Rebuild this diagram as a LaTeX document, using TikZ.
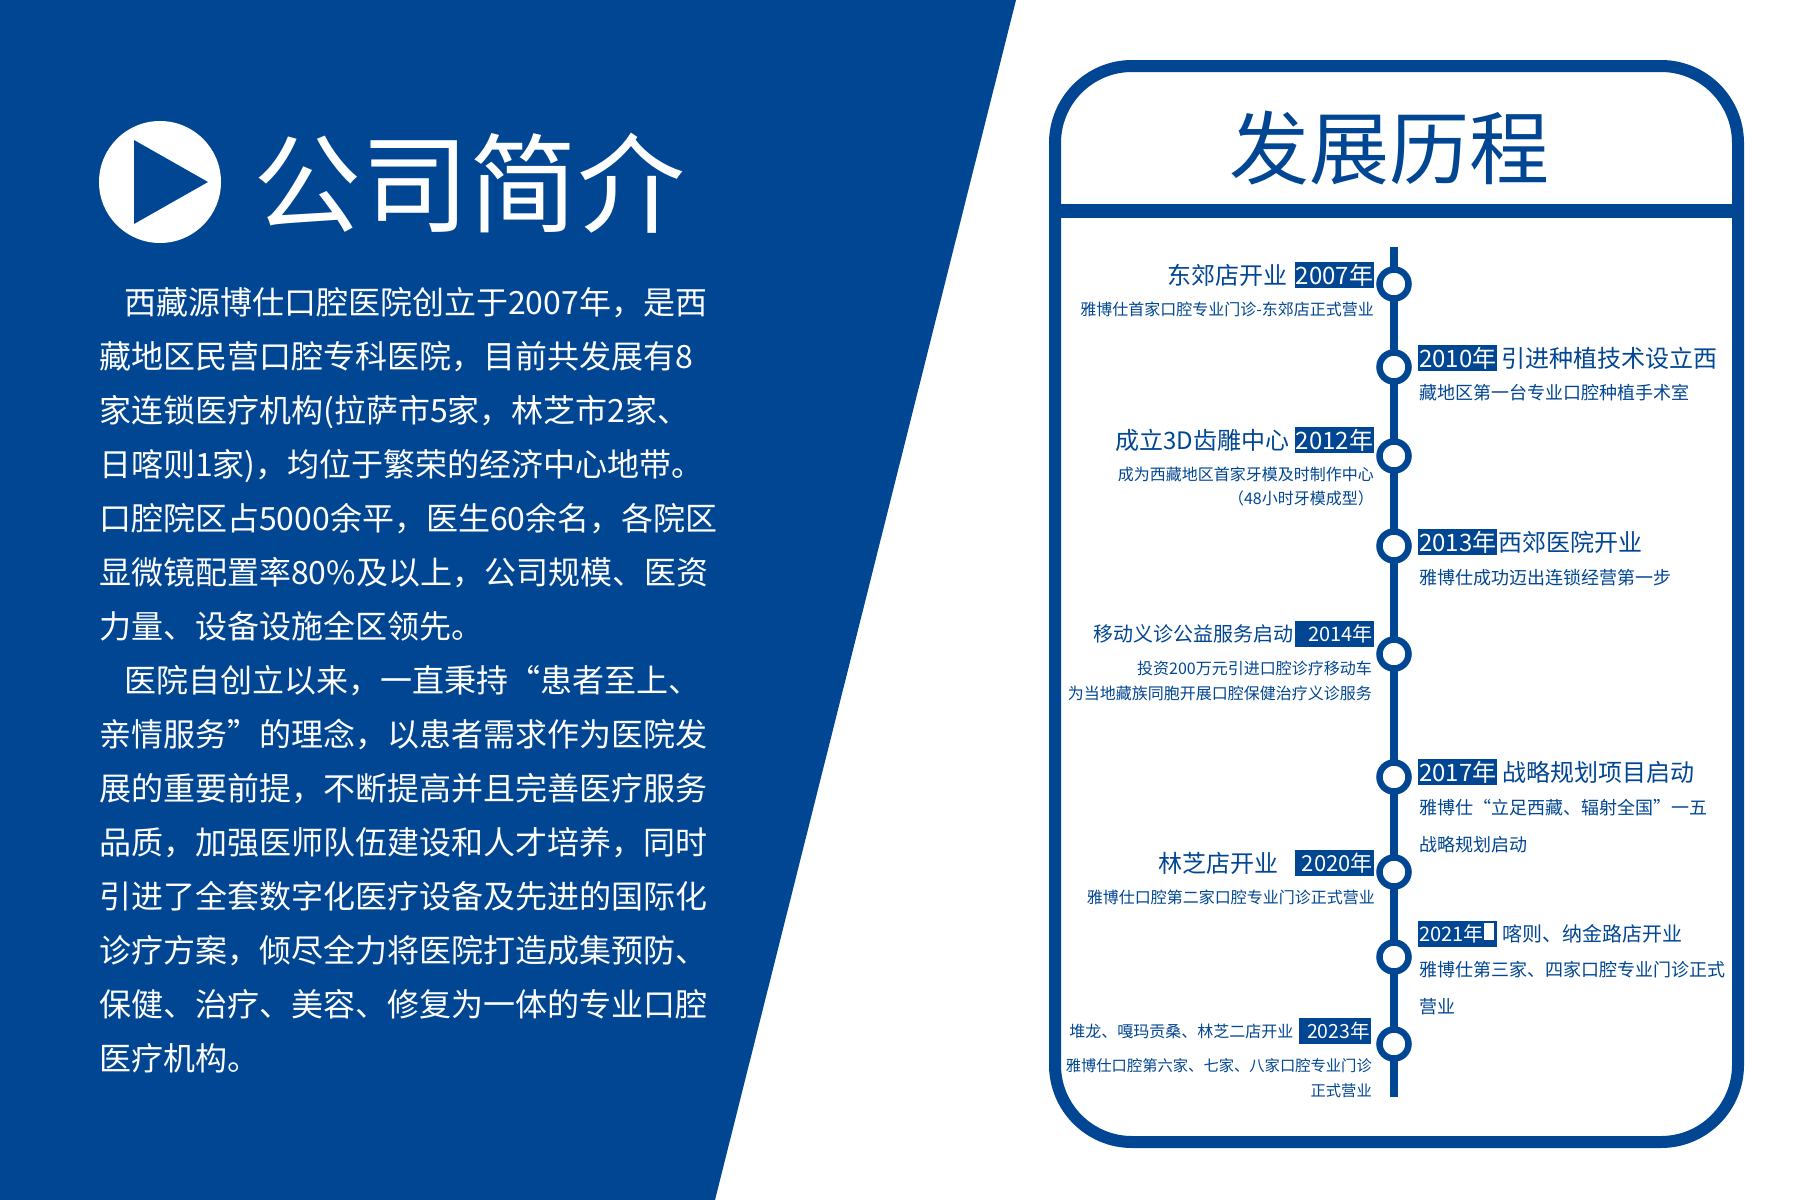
\documentclass[tikz,border=0pt]{standalone}
\usepackage{fontspec}
\setmainfont{Noto Sans CJK SC}
\usetikzlibrary{positioning}
\definecolor{brandblue}{RGB}{0,70,146}
\newcommand{\fs}[1]{\fontsize{#1}{#1}\selectfont}

\begin{document}
\begin{tikzpicture}[x=1pt,y=-1pt,
    yearbox/.style={fill=brandblue,text=white,inner xsep=1pt,inner ysep=0pt,
      minimum height=26pt,text width=77pt},
    ttl/.style={text=brandblue,inner sep=0pt},
    subl/.style={text=brandblue,inner sep=0pt,anchor=base east},
    subr/.style={text=brandblue,inner sep=0pt,anchor=base west},
    dot/.style={circle,draw=brandblue,fill=white,line width=6.5pt,
      minimum size=29pt,inner sep=0pt},
    para/.style={text=white,inner sep=0pt,anchor=base west,font=\fs{32}}]
  \useasboundingbox (0,0) rectangle (1800,1200);
  \fill[white] (0,0) rectangle (1800,1200);

  % left half: company profile
  \fill[brandblue] (0,0) -- (1016,0) -- (715,1200) -- (0,1200) -- cycle;
  \fill[white] (160,182) circle (61);
  \fill[brandblue] (134,140) -- (208,182) -- (134,224) -- cycle;
  \node[text=white,inner sep=0pt,anchor=base west,font=\fs{108}] (title) at (253,224) {公司简介};
  \foreach \ln [count=\i from 0] in {
      \hspace*{25pt}西藏源博仕口腔医院创立于2007年，是西,
      藏地区民营口腔专科医院，目前共发展有8,
      家连锁医疗机构(拉萨市5家，林芝市2家、,
      日喀则1家)，均位于繁荣的经济中心地带。,
      口腔院区占5000余平，医生60余名，各院区,
      显微镜配置率80\%及以上，公司规模、医资,
      力量、设备设施全区领先。,
      \hspace*{25pt}医院自创立以来，一直秉持“患者至上、,
      亲情服务”的理念，以患者需求作为医院发,
      展的重要前提，不断提高并且完善医疗服务,
      品质，加强医师队伍建设和人才培养，同时,
      引进了全套数字化医疗设备及先进的国际化,
      诊疗方案，倾尽全力将医院打造成集预防、,
      保健、治疗、美容、修复为一体的专业口腔,
      医疗机构。}
    \node[para] (p\i) at (99,{314+54*\i}) {\ln};

  % right half: history panel
  \draw[brandblue,line width=12pt,rounded corners=77pt] (1055,66) rectangle (1738,1142);
  \fill[brandblue] (1055,204) rectangle (1738,218);
  \node[text=brandblue,inner sep=0pt,anchor=base,font=\fs{80}] (hist) at (1389,178) {发展历程};

  \coordinate (ttop) at (1394,247);
  \coordinate (tbot) at (1394,1097);
  \draw[brandblue,line width=8.5pt] (ttop) -- (tbot);
  \foreach \yr/\y in {07/284,10/367,12/456,13/546,14/654,17/777,20/872,21/957,23/1044}
    \node[dot] (d\yr) at (1394,\y) {};

  % 2007
  \node[yearbox,align=right,anchor=east,font=\fs{24}] (y07) at (1374,275) {2007年};
  \node[ttl,font=\fs{24},left=7pt of y07] (t07) {东郊店开业};
  \node[subl,font=\fs{16}] (s07) at (1374,315) {雅博仕首家口腔专业门诊-东郊店正式营业};
  % 2010
  \node[yearbox,align=left,anchor=west,font=\fs{24}] (y10) at (1418,358) {2010年};
  \node[ttl,font=\fs{24},right=4pt of y10] (t10) {引进种植技术设立西};
  \node[subr,font=\fs{18}] (s10) at (1419,399) {藏地区第一台专业口腔种植手术室};
  % 2012
  \node[yearbox,align=right,anchor=east,font=\fs{24}] (y12) at (1374,440) {2012年};
  \node[ttl,font=\fs{24},left=5pt of y12] (t12) {成立3D齿雕中心};
  \node[subl,font=\fs{16}] (s12a) at (1374,480) {成为西藏地区首家牙模及时制作中心};
  \node[subl,font=\fs{16}] (s12b) at (1374,504) {（48小时牙模成型）};
  % 2013
  \node[yearbox,align=left,anchor=west,font=\fs{24}] (y13) at (1418,542) {2013年};
  \node[ttl,font=\fs{24},right=1pt of y13] (t13) {西郊医院开业};
  \node[subr,font=\fs{18}] (s13) at (1419,584) {雅博仕成功迈出连锁经营第一步};
  % 2014
  \node[yearbox,align=right,anchor=east,font=\fs{20}] (y14) at (1374,634) {2014年};
  \node[ttl,font=\fs{20},left=1pt of y14] (t14) {移动义诊公益服务启动};
  \node[subl,font=\fs{16}] (s14a) at (1372,674) {投资200万元引进口腔诊疗移动车};
  \node[subl,font=\fs{16}] (s14b) at (1372,699) {为当地藏族同胞开展口腔保健治疗义诊服务};
  % 2017
  \node[yearbox,align=left,anchor=west,font=\fs{24}] (y17) at (1418,772) {2017年};
  \node[ttl,font=\fs{24},right=5pt of y17] (t17) {战略规划项目启动};
  \node[subr,font=\fs{18}] (s17a) at (1419,814) {雅博仕“立足西藏、辐射全国”一五};
  \node[subr,font=\fs{18}] (s17b) at (1419,851) {战略规划启动};
  % 2020
  \node[yearbox,align=right,anchor=east,font=\fs{22}] (y20) at (1374,863) {2020年};
  \node[ttl,font=\fs{24},left=16pt of y20] (t20) {林芝店开业};
  \node[subl,font=\fs{16}] (s20) at (1375,903) {雅博仕口腔第二家口腔专业门诊正式营业};
  % 2021
  \node[yearbox,align=left,anchor=west,font=\fs{20}] (y21) at (1418,934) {2021年};
  \fill[white] (1484,923) rectangle (1494,940);
  \node[ttl,font=\fs{20},right=5pt of y21] (t21) {喀则、纳金路店开业};
  \node[subr,font=\fs{18}] (s21a) at (1419,976) {雅博仕第三家、四家口腔专业门诊正式};
  \node[subr,font=\fs{18}] (s21b) at (1419,1013) {营业};
  % 2023
  \node[yearbox,text width=70pt,align=right,anchor=east,font=\fs{19.5}] (y23) at (1371,1031) {2023年};
  \node[ttl,font=\fs{16},left=5pt of y23] (t23) {堆龙、嘎玛贡桑、林芝二店开业};
  \node[subl,font=\fs{15.3}] (s23a) at (1372,1071) {雅博仕口腔第六家、七家、八家口腔专业门诊};
  \node[subl,font=\fs{15.3}] (s23b) at (1372,1096) {正式营业};
\end{tikzpicture}
\end{document}
